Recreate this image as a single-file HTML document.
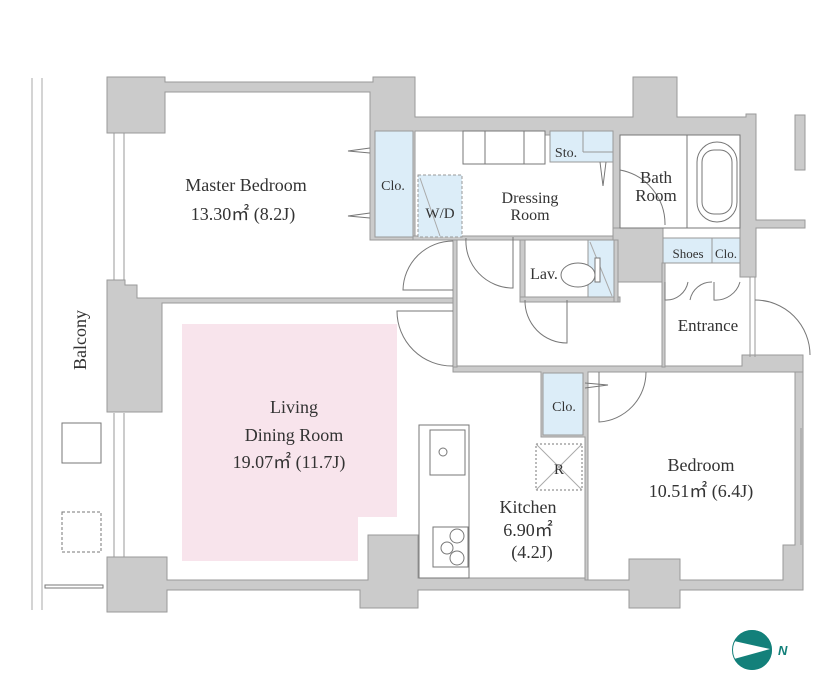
<!DOCTYPE html>
<html><head><meta charset="utf-8"><style>
html,body{margin:0;padding:0;background:#fff;width:833px;height:690px;overflow:hidden}
svg{display:block}
text{font-family:"Liberation Serif",serif;fill:#333}
</style></head><body>
<svg width="833" height="690" viewBox="0 0 833 690" xmlns="http://www.w3.org/2000/svg">
<g stroke="#aaa" stroke-width="1" fill="none">
<line x1="32" y1="78" x2="32" y2="610"/>
<line x1="42" y1="78" x2="42" y2="610"/>
</g>
<path d="M182 324 H397 V517 H358 V561 H182 Z" fill="#f8e4ec"/>
<!-- gray walls -->
<g fill="#cbcbcb" stroke="#999" stroke-width="1">
<path d="M107 77 H165 V82 H373 V77 H415 V117 H633 V77 H677 V117 H746 V114 H756 V220 H805 V228 H756 V277 H740 V228 H620 V236 H613 V135 H463 V131 H415 V240 H370 V92 H165 V133 H107 Z"/>
<path d="M613 228 H663 V282 H613 Z"/>
<path d="M107 280 H125 V285 H137 V298 H455 V303 H162 V412 H107 Z"/>
<path d="M107 557 H167 V580 H368 V535 H418 V578 H588 V580 H629 V559 H680 V580 H783 V545 H795 V360 H803 V590 H680 V608 H629 V590 H418 V608 H360 V590 H167 V612 H107 Z"/>
<path d="M453 366 H742 V355 H803 V372 H588 V580 H585 V437 H541 V372 H453 Z"/>
<rect x="795" y="115" width="10" height="55"/>
</g>
<g fill="#cbcbcb" stroke="#999" stroke-width="1">
<rect x="453" y="240" width="4" height="127"/>
<rect x="413" y="236" width="200" height="4"/>
<rect x="520" y="240" width="5" height="62"/>
<rect x="520" y="297" width="100" height="5"/>
<rect x="614" y="240" width="4" height="62"/>
<rect x="662" y="263" width="3" height="104"/>
</g>
<!-- blue areas -->
<g fill="#dcedf8" stroke="#999" stroke-width="1">
<rect x="375" y="131" width="38" height="106"/>
<rect x="418" y="175" width="44" height="62" stroke-dasharray="3,2"/>
<rect x="550" y="131" width="63" height="31"/>
<rect x="588" y="240" width="26" height="57"/>
<rect x="663" y="238" width="77" height="25"/>
<rect x="543" y="373" width="40" height="62"/>
</g>
<line x1="712" y1="238" x2="712" y2="263" stroke="#999"/>
<line x1="583" y1="131" x2="583" y2="152" stroke="#999"/>
<line x1="583" y1="152" x2="613" y2="152" stroke="#999"/>
<line x1="420" y1="178" x2="440" y2="236" stroke="#aaa"/>
<line x1="590" y1="242" x2="612" y2="296" stroke="#aaa"/>
<!-- fixtures -->
<g fill="#fff" stroke="#777" stroke-width="1">
<rect x="463" y="131" width="82" height="33"/>
<line x1="485" y1="131" x2="485" y2="164"/>
<line x1="524" y1="131" x2="524" y2="164"/>
<rect x="620" y="135" width="120" height="93"/>
<line x1="687" y1="135" x2="687" y2="228"/>
<rect x="697" y="142" width="40" height="80" rx="20"/>
<rect x="702" y="150" width="30" height="64" rx="12"/>
<rect x="419" y="425" width="50" height="153"/>
<rect x="430" y="430" width="35" height="45"/>
<circle cx="443" cy="452" r="4"/>
<rect x="433" y="527" width="35" height="40"/>
<circle cx="457" cy="536" r="7"/><circle cx="447" cy="548" r="6"/><circle cx="457" cy="558" r="7"/>
<rect x="536" y="444" width="46" height="46" stroke-dasharray="2,2"/>
<ellipse cx="578" cy="275" rx="17" ry="12"/>
<rect x="595" y="258" width="5" height="24"/>
<rect x="62" y="423" width="39" height="40"/>
<rect x="62" y="512" width="39" height="40" stroke-dasharray="3,2"/>
<rect x="45" y="585" width="58" height="3"/>
</g>
<line x1="536" y1="444" x2="582" y2="490" stroke="#aaa"/>
<line x1="582" y1="444" x2="536" y2="490" stroke="#aaa"/>
<g stroke="#999" fill="none">
<line x1="114" y1="133" x2="114" y2="280"/><line x1="124" y1="133" x2="124" y2="280"/>
<line x1="114" y1="413" x2="114" y2="557"/><line x1="124" y1="413" x2="124" y2="557"/>
<line x1="795" y1="428" x2="795" y2="545"/><line x1="801" y1="428" x2="801" y2="545"/>
<line x1="750" y1="277" x2="750" y2="357"/><line x1="755" y1="277" x2="755" y2="357"/>
</g>
<g stroke="#777" fill="none" stroke-width="1">
<path d="M453 290 H403 A50 50 0 0 1 453 241"/>
<path d="M453 311 H397 A55 55 0 0 0 453 366"/>
<path d="M513 237 V288 A47 47 0 0 1 466 238"/>
<path d="M567 300 V343 A42 42 0 0 1 525 300"/>
<path d="M620 170 A55 55 0 0 1 665 225"/>
<path d="M665 282 V300 A22 22 0 0 0 688 282"/>
<path d="M712 282 A22 22 0 0 0 690 300"/>
<path d="M714 282 V300 A25 25 0 0 0 740 282"/>
<path d="M755 300 A55 55 0 0 1 810 355"/>
<path d="M599 372 V422 A50 50 0 0 0 646 372"/>
<path d="M606 162 L603 186 L600 162"/>
<path d="M370 148 L348 151 L370 153"/>
<path d="M370 213 L348 216 L370 218"/>
<path d="M585 383 L608 385 L585 388"/>
</g>
<!-- compass -->
<circle cx="752" cy="650" r="20" fill="#13807a"/>
<path d="M734 641 L770 649 L734 659 A20 20 0 0 1 734 641 Z" fill="#fff"/>
<circle cx="752" cy="650" r="19.5" fill="none" stroke="#13807a" stroke-width="1"/>
<text x="778" y="655" style="font-family:'Liberation Sans',sans-serif;font-style:italic;font-weight:bold;font-size:13px;fill:#13807a">N</text>
<g font-size="18" text-anchor="middle">
<text x="246" y="191">Master Bedroom</text>
<text x="243" y="220">13.30㎡ (8.2J)</text>
<text x="294" y="413">Living</text>
<text x="294" y="441">Dining Room</text>
<text x="289" y="468">19.07㎡ (11.7J)</text>
<text x="701" y="471">Bedroom</text>
<text x="701" y="497">10.51㎡ (6.4J)</text>
<text x="528" y="513">Kitchen</text>
<text x="528" y="536">6.90㎡</text>
<text x="532" y="558">(4.2J)</text>
<text x="708" y="331" font-size="17">Entrance</text>
<text x="656" y="183" font-size="17">Bath</text>
<text x="656" y="201" font-size="17">Room</text>
<text x="530" y="203" font-size="16">Dressing</text>
<text x="530" y="220" font-size="16">Room</text>
<text x="393" y="190" font-size="14">Clo.</text>
<text x="440" y="218" font-size="15">W/D</text>
<text x="566" y="157" font-size="14">Sto.</text>
<text x="544" y="279" font-size="16">Lav.</text>
<text x="688" y="258" font-size="13">Shoes</text>
<text x="726" y="258" font-size="13">Clo.</text>
<text x="564" y="411" font-size="14">Clo.</text>
<text x="559" y="474" font-size="15">R</text>
<text x="0" y="0" font-size="18" transform="translate(86 340) rotate(-90)">Balcony</text>
</g>
</svg>
</body></html>
